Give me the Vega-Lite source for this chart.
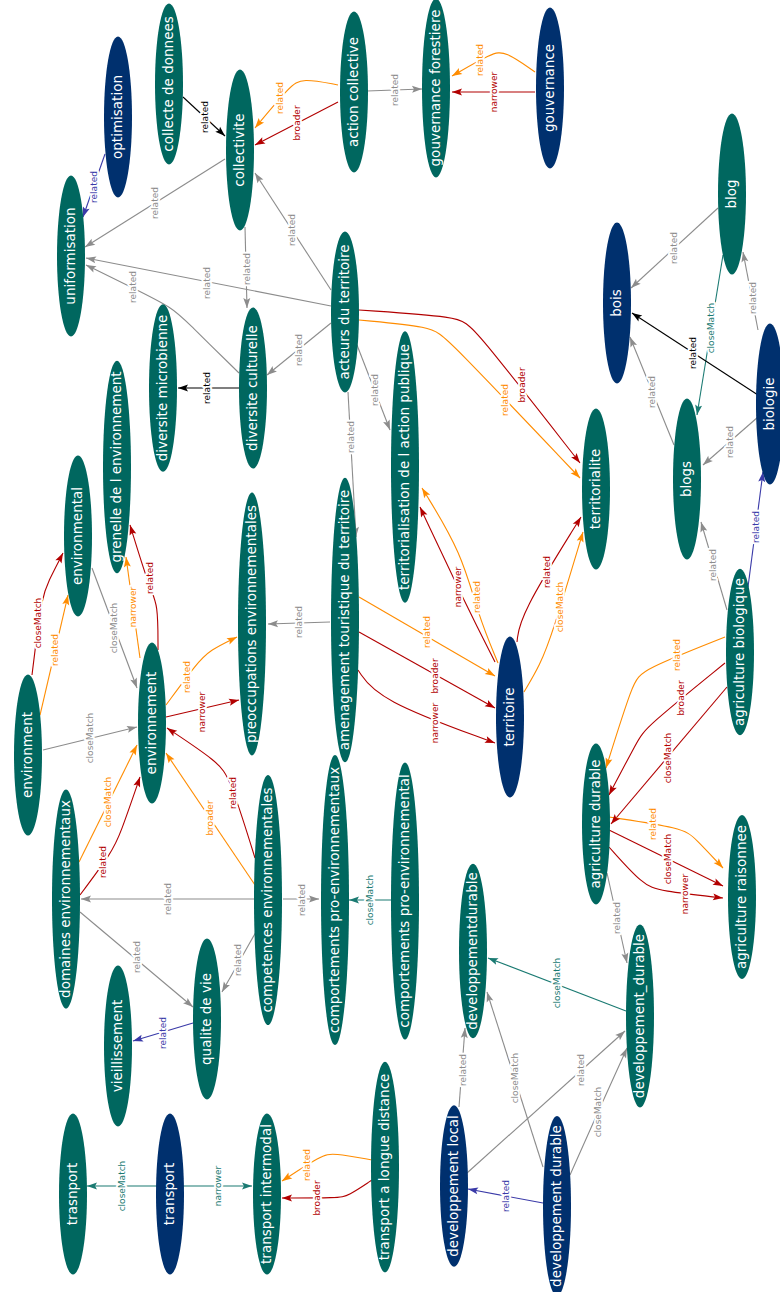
{
"$schema": "https://vega.github.io/schema/vega-lite/v6.json",
"width": 780, "height": 1292, "padding": 0,
"autosize": {"type": "none"},
"background": "white",
"config": {"view": {"stroke": null}},
"datasets": {
"nodes": [
{"name":"collecte de donnees","grp":"n1","x":169,"y":84},
{"name":"optimisation","grp":"n2","x":118,"y":117},
{"name":"collectivite","grp":"n1","x":240,"y":150},
{"name":"action collective","grp":"n1","x":354,"y":92},
{"name":"gouvernance forestiere","grp":"n1","x":436,"y":88},
{"name":"gouvernance","grp":"n2","x":550,"y":88},
{"name":"uniformisation","grp":"n1","x":71,"y":256},
{"name":"blog","grp":"n1","x":732,"y":194},
{"name":"bois","grp":"n2","x":617,"y":303},
{"name":"biologie","grp":"n2","x":770,"y":404},
{"name":"acteurs du territoire","grp":"n1","x":345,"y":312},
{"name":"diversite culturelle","grp":"n1","x":253,"y":388},
{"name":"diversite microbienne","grp":"n1","x":163,"y":388},
{"name":"territorialisation de l action publique","grp":"n1","x":405,"y":467},
{"name":"grenelle de l environnement","grp":"n1","x":117,"y":467},
{"name":"blogs","grp":"n1","x":687,"y":479},
{"name":"territorialite","grp":"n1","x":596,"y":489},
{"name":"environmental","grp":"n1","x":78,"y":536},
{"name":"preoccupations environnementales","grp":"n1","x":252,"y":624},
{"name":"amenagement touristique du territoire","grp":"n1","x":345,"y":620},
{"name":"agriculture biologique","grp":"n1","x":740,"y":652},
{"name":"environnement","grp":"n1","x":152,"y":723},
{"name":"territoire","grp":"n2","x":510,"y":717},
{"name":"environment","grp":"n1","x":28,"y":755},
{"name":"agriculture durable","grp":"n1","x":596,"y":824},
{"name":"agriculture raisonnee","grp":"n1","x":742,"y":897},
{"name":"domaines environnementaux","grp":"n1","x":66,"y":899},
{"name":"competences environnementales","grp":"n1","x":268,"y":900},
{"name":"comportements pro-environnementaux","grp":"n1","x":335,"y":900},
{"name":"comportements pro-environnemental","grp":"n1","x":405,"y":901},
{"name":"developpementdurable","grp":"n1","x":473,"y":951},
{"name":"developpement_durable","grp":"n1","x":640,"y":1016},
{"name":"qualite de vie","grp":"n1","x":207,"y":1019},
{"name":"vieillissement","grp":"n1","x":118,"y":1046},
{"name":"developpement local","grp":"n2","x":454,"y":1186},
{"name":"developpement durable","grp":"n2","x":557,"y":1206},
{"name":"transport a longue distance","grp":"n1","x":385,"y":1167},
{"name":"transport intermodal","grp":"n1","x":267,"y":1194},
{"name":"transport","grp":"n2","x":170,"y":1194},
{"name":"trasnport","grp":"n1","x":73,"y":1194}
],
"edges": [
{"e":1,"i":0,"x":183,"y":97,"grp":"f"},{"e":1,"i":1,"x":225,"y":136,"grp":"f"},
{"e":2,"i":0,"x":105,"y":154,"grp":"e"},{"e":2,"i":1,"x":83,"y":217,"grp":"e"},
{"e":3,"i":0,"x":225,"y":159,"grp":"a"},{"e":3,"i":1,"x":85,"y":247,"grp":"a"},
{"e":4,"i":0,"x":338,"y":85,"grp":"b"},{"e":4,"i":1,"x":302,"y":78,"grp":"b"},{"e":4,"i":2,"x":290,"y":86,"grp":"b"},{"e":4,"i":3,"x":255,"y":128,"grp":"b"},
{"e":5,"i":0,"x":338,"y":102,"grp":"c"},{"e":5,"i":1,"x":255,"y":145,"grp":"c"},
{"e":6,"i":0,"x":367,"y":91,"grp":"a"},{"e":6,"i":1,"x":422,"y":89,"grp":"a"},
{"e":7,"i":0,"x":535,"y":72,"grp":"b"},{"e":7,"i":1,"x":505,"y":51,"grp":"b"},{"e":7,"i":2,"x":492,"y":53,"grp":"b"},{"e":7,"i":3,"x":452,"y":76,"grp":"b"},
{"e":8,"i":0,"x":535,"y":92,"grp":"c"},{"e":8,"i":1,"x":452,"y":92,"grp":"c"},
{"e":9,"i":0,"x":718,"y":208,"grp":"a"},{"e":9,"i":1,"x":631,"y":288,"grp":"a"},
{"e":10,"i":0,"x":723,"y":255,"grp":"d"},{"e":10,"i":1,"x":697,"y":415,"grp":"d"},
{"e":11,"i":0,"x":758,"y":330,"grp":"a"},{"e":11,"i":1,"x":743,"y":252,"grp":"a"},
{"e":12,"i":0,"x":758,"y":395,"grp":"f"},{"e":12,"i":1,"x":632,"y":313,"grp":"f"},
{"e":13,"i":0,"x":758,"y":417,"grp":"a"},{"e":13,"i":1,"x":703,"y":465,"grp":"a"},
{"e":14,"i":0,"x":674,"y":445,"grp":"a"},{"e":14,"i":1,"x":630,"y":337,"grp":"a"},
{"e":15,"i":0,"x":727,"y":610,"grp":"a"},{"e":15,"i":1,"x":701,"y":522,"grp":"a"},
{"e":16,"i":0,"x":748,"y":587,"grp":"e"},{"e":16,"i":1,"x":763,"y":472,"grp":"e"},
{"e":17,"i":0,"x":331,"y":290,"grp":"a"},{"e":17,"i":1,"x":255,"y":173,"grp":"a"},
{"e":18,"i":0,"x":331,"y":306,"grp":"a"},{"e":18,"i":1,"x":86,"y":258,"grp":"a"},
{"e":19,"i":0,"x":331,"y":323,"grp":"a"},{"e":19,"i":1,"x":267,"y":375,"grp":"a"},
{"e":20,"i":0,"x":357,"y":345,"grp":"a"},{"e":20,"i":1,"x":390,"y":430,"grp":"a"},
{"e":21,"i":0,"x":348,"y":392,"grp":"a"},{"e":21,"i":1,"x":356,"y":537,"grp":"a"},
{"e":22,"i":0,"x":359,"y":310,"grp":"c"},{"e":22,"i":1,"x":460,"y":317,"grp":"c"},{"e":22,"i":2,"x":472,"y":325,"grp":"c"},{"e":22,"i":3,"x":580,"y":463,"grp":"c"},
{"e":23,"i":0,"x":359,"y":320,"grp":"b"},{"e":23,"i":1,"x":432,"y":327,"grp":"b"},{"e":23,"i":2,"x":445,"y":336,"grp":"b"},{"e":23,"i":3,"x":580,"y":478,"grp":"b"},
{"e":24,"i":0,"x":245,"y":227,"grp":"a"},{"e":24,"i":1,"x":247,"y":308,"grp":"a"},
{"e":25,"i":0,"x":239,"y":373,"grp":"a"},{"e":25,"i":1,"x":187,"y":322,"grp":"a"},{"e":25,"i":2,"x":173,"y":308,"grp":"a"},{"e":25,"i":3,"x":133,"y":288,"grp":"a"},{"e":25,"i":4,"x":86,"y":265,"grp":"a"},
{"e":26,"i":0,"x":239,"y":388,"grp":"f"},{"e":26,"i":1,"x":178,"y":388,"grp":"f"},
{"e":27,"i":0,"x":495,"y":662,"grp":"c"},{"e":27,"i":1,"x":467,"y":607,"grp":"c"},{"e":27,"i":2,"x":420,"y":507,"grp":"c"},
{"e":28,"i":0,"x":498,"y":663,"grp":"b"},{"e":28,"i":1,"x":478,"y":615,"grp":"b"},{"e":28,"i":2,"x":462,"y":553,"grp":"b"},{"e":28,"i":3,"x":422,"y":488,"grp":"b"},
{"e":29,"i":0,"x":517,"y":642,"grp":"c"},{"e":29,"i":1,"x":520,"y":615,"grp":"c"},{"e":29,"i":2,"x":581,"y":517,"grp":"c"},
{"e":30,"i":0,"x":524,"y":692,"grp":"b"},{"e":30,"i":1,"x":540,"y":665,"grp":"b"},{"e":30,"i":2,"x":552,"y":635,"grp":"b"},{"e":30,"i":3,"x":583,"y":532,"grp":"b"},
{"e":31,"i":0,"x":330,"y":622,"grp":"a"},{"e":31,"i":1,"x":268,"y":624,"grp":"a"},
{"e":32,"i":0,"x":359,"y":597,"grp":"b"},{"e":32,"i":1,"x":495,"y":676,"grp":"b"},
{"e":33,"i":0,"x":359,"y":632,"grp":"c"},{"e":33,"i":1,"x":495,"y":708,"grp":"c"},
{"e":34,"i":0,"x":358,"y":670,"grp":"c"},{"e":34,"i":1,"x":378,"y":700,"grp":"c"},{"e":34,"i":2,"x":495,"y":743,"grp":"c"},
{"e":35,"i":0,"x":166,"y":705,"grp":"b"},{"e":35,"i":1,"x":197,"y":663,"grp":"b"},{"e":35,"i":2,"x":210,"y":650,"grp":"b"},{"e":35,"i":3,"x":237,"y":637,"grp":"b"},
{"e":36,"i":0,"x":166,"y":717,"grp":"c"},{"e":36,"i":1,"x":239,"y":700,"grp":"c"},
{"e":37,"i":0,"x":140,"y":658,"grp":"b"},{"e":37,"i":1,"x":126,"y":557,"grp":"b"},
{"e":38,"i":0,"x":158,"y":650,"grp":"c"},{"e":38,"i":1,"x":158,"y":603,"grp":"c"},{"e":38,"i":2,"x":150,"y":590,"grp":"c"},{"e":38,"i":3,"x":130,"y":525,"grp":"c"},
{"e":39,"i":0,"x":92,"y":568,"grp":"a"},{"e":39,"i":1,"x":137,"y":688,"grp":"a"},
{"e":40,"i":0,"x":32,"y":675,"grp":"c"},{"e":40,"i":1,"x":35,"y":650,"grp":"c"},{"e":40,"i":2,"x":42,"y":597,"grp":"c"},{"e":40,"i":3,"x":48,"y":582,"grp":"c"},{"e":40,"i":4,"x":63,"y":553,"grp":"c"},
{"e":41,"i":0,"x":40,"y":715,"grp":"b"},{"e":41,"i":1,"x":68,"y":595,"grp":"b"},
{"e":42,"i":0,"x":43,"y":750,"grp":"a"},{"e":42,"i":1,"x":137,"y":727,"grp":"a"},
{"e":43,"i":0,"x":79,"y":862,"grp":"b"},{"e":43,"i":1,"x":137,"y":745,"grp":"b"},
{"e":44,"i":0,"x":80,"y":895,"grp":"c"},{"e":44,"i":1,"x":112,"y":852,"grp":"c"},{"e":44,"i":2,"x":120,"y":835,"grp":"c"},{"e":44,"i":3,"x":140,"y":777,"grp":"c"},
{"e":45,"i":0,"x":255,"y":885,"grp":"b"},{"e":45,"i":1,"x":166,"y":753,"grp":"b"},
{"e":46,"i":0,"x":255,"y":858,"grp":"c"},{"e":46,"i":1,"x":230,"y":778,"grp":"c"},{"e":46,"i":2,"x":218,"y":762,"grp":"c"},{"e":46,"i":3,"x":167,"y":728,"grp":"c"},
{"e":47,"i":0,"x":255,"y":899,"grp":"a"},{"e":47,"i":1,"x":81,"y":899,"grp":"a"},
{"e":48,"i":0,"x":283,"y":899,"grp":"a"},{"e":48,"i":1,"x":319,"y":899,"grp":"a"},
{"e":49,"i":0,"x":80,"y":912,"grp":"a"},{"e":49,"i":1,"x":193,"y":1007,"grp":"a"},
{"e":50,"i":0,"x":257,"y":930,"grp":"a"},{"e":50,"i":1,"x":222,"y":992,"grp":"a"},
{"e":51,"i":0,"x":193,"y":1023,"grp":"e"},{"e":51,"i":1,"x":133,"y":1041,"grp":"e"},
{"e":52,"i":0,"x":391,"y":900,"grp":"d"},{"e":52,"i":1,"x":349,"y":900,"grp":"d"},
{"e":53,"i":0,"x":725,"y":637,"grp":"b"},{"e":53,"i":1,"x":642,"y":670,"grp":"b"},{"e":53,"i":2,"x":633,"y":682,"grp":"b"},{"e":53,"i":3,"x":606,"y":768,"grp":"b"},
{"e":54,"i":0,"x":725,"y":663,"grp":"c"},{"e":54,"i":1,"x":645,"y":728,"grp":"c"},{"e":54,"i":2,"x":638,"y":740,"grp":"c"},{"e":54,"i":3,"x":609,"y":795,"grp":"c"},
{"e":55,"i":0,"x":727,"y":687,"grp":"c"},{"e":55,"i":1,"x":611,"y":824,"grp":"c"},
{"e":56,"i":0,"x":609,"y":817,"grp":"b"},{"e":56,"i":1,"x":683,"y":828,"grp":"b"},{"e":56,"i":2,"x":695,"y":838,"grp":"b"},{"e":56,"i":3,"x":723,"y":868,"grp":"b"},
{"e":57,"i":0,"x":609,"y":830,"grp":"c"},{"e":57,"i":1,"x":723,"y":886,"grp":"c"},
{"e":58,"i":0,"x":609,"y":847,"grp":"c"},{"e":58,"i":1,"x":643,"y":885,"grp":"c"},{"e":58,"i":2,"x":660,"y":891,"grp":"c"},{"e":58,"i":3,"x":723,"y":898,"grp":"c"},
{"e":59,"i":0,"x":607,"y":873,"grp":"a"},{"e":59,"i":1,"x":627,"y":963,"grp":"a"},
{"e":60,"i":0,"x":626,"y":1011,"grp":"d"},{"e":60,"i":1,"x":488,"y":958,"grp":"d"},
{"e":61,"i":0,"x":459,"y":1107,"grp":"a"},{"e":61,"i":1,"x":465,"y":1028,"grp":"a"},
{"e":62,"i":0,"x":467,"y":1173,"grp":"a"},{"e":62,"i":1,"x":625,"y":1031,"grp":"a"},
{"e":63,"i":0,"x":543,"y":1167,"grp":"a"},{"e":63,"i":1,"x":487,"y":992,"grp":"a"},
{"e":64,"i":0,"x":570,"y":1175,"grp":"a"},{"e":64,"i":1,"x":590,"y":1130,"grp":"a"},{"e":64,"i":2,"x":627,"y":1048,"grp":"a"},
{"e":65,"i":0,"x":543,"y":1203,"grp":"e"},{"e":65,"i":1,"x":468,"y":1189,"grp":"e"},
{"e":66,"i":0,"x":372,"y":1160,"grp":"b"},{"e":66,"i":1,"x":333,"y":1153,"grp":"b"},{"e":66,"i":2,"x":322,"y":1155,"grp":"b"},{"e":66,"i":3,"x":282,"y":1181,"grp":"b"},
{"e":67,"i":0,"x":372,"y":1180,"grp":"c"},{"e":67,"i":1,"x":348,"y":1196,"grp":"c"},{"e":67,"i":2,"x":338,"y":1198,"grp":"c"},{"e":67,"i":3,"x":282,"y":1198,"grp":"c"},
{"e":68,"i":0,"x":183,"y":1186,"grp":"d"},{"e":68,"i":1,"x":252,"y":1186,"grp":"d"},
{"e":69,"i":0,"x":157,"y":1186,"grp":"d"},{"e":69,"i":1,"x":87,"y":1186,"grp":"d"}
],
"labels": [
{"t":"related","grp":"f","x":205,"y":117},
{"t":"related","grp":"e","x":94,"y":187},
{"t":"related","grp":"a","x":155,"y":203},
{"t":"related","grp":"b","x":280,"y":98},
{"t":"broader","grp":"c","x":297,"y":123},
{"t":"related","grp":"a","x":395,"y":90},
{"t":"related","grp":"b","x":480,"y":60},
{"t":"narrower","grp":"c","x":494,"y":92},
{"t":"related","grp":"a","x":674,"y":248},
{"t":"closeMatch","grp":"d","x":711,"y":328},
{"t":"related","grp":"a","x":753,"y":298},
{"t":"related","grp":"f","x":693,"y":353},
{"t":"related","grp":"a","x":730,"y":442},
{"t":"related","grp":"a","x":652,"y":392},
{"t":"related","grp":"a","x":713,"y":565},
{"t":"related","grp":"e","x":756,"y":527},
{"t":"related","grp":"a","x":292,"y":230},
{"t":"related","grp":"a","x":207,"y":283},
{"t":"related","grp":"a","x":299,"y":350},
{"t":"related","grp":"a","x":375,"y":390},
{"t":"related","grp":"a","x":351,"y":437},
{"t":"broader","grp":"c","x":522,"y":385},
{"t":"related","grp":"b","x":505,"y":400},
{"t":"related","grp":"a","x":247,"y":269},
{"t":"related","grp":"a","x":133,"y":287},
{"t":"related","grp":"f","x":207,"y":388},
{"t":"narrower","grp":"c","x":458,"y":587},
{"t":"related","grp":"b","x":477,"y":597},
{"t":"related","grp":"c","x":547,"y":572},
{"t":"closeMatch","grp":"b","x":560,"y":607},
{"t":"related","grp":"a","x":299,"y":622},
{"t":"related","grp":"b","x":427,"y":632},
{"t":"broader","grp":"c","x":435,"y":676},
{"t":"narrower","grp":"c","x":435,"y":723},
{"t":"related","grp":"b","x":187,"y":677},
{"t":"narrower","grp":"c","x":202,"y":712},
{"t":"narrower","grp":"b","x":133,"y":607},
{"t":"related","grp":"c","x":150,"y":578},
{"t":"closeMatch","grp":"a","x":114,"y":628},
{"t":"closeMatch","grp":"c","x":38,"y":623},
{"t":"related","grp":"b","x":55,"y":650},
{"t":"closeMatch","grp":"a","x":90,"y":738},
{"t":"closeMatch","grp":"b","x":108,"y":802},
{"t":"related","grp":"c","x":103,"y":862},
{"t":"broader","grp":"b","x":210,"y":818},
{"t":"related","grp":"c","x":233,"y":793},
{"t":"related","grp":"a","x":168,"y":899},
{"t":"related","grp":"a","x":302,"y":900},
{"t":"related","grp":"a","x":137,"y":957},
{"t":"related","grp":"a","x":238,"y":960},
{"t":"related","grp":"e","x":163,"y":1033},
{"t":"closeMatch","grp":"d","x":370,"y":900},
{"t":"related","grp":"b","x":677,"y":655},
{"t":"broader","grp":"c","x":681,"y":698},
{"t":"closeMatch","grp":"c","x":668,"y":758},
{"t":"related","grp":"b","x":653,"y":824},
{"t":"closeMatch","grp":"c","x":668,"y":859},
{"t":"narrower","grp":"c","x":685,"y":894},
{"t":"related","grp":"a","x":617,"y":918},
{"t":"closeMatch","grp":"d","x":557,"y":983},
{"t":"related","grp":"a","x":463,"y":1070},
{"t":"related","grp":"a","x":581,"y":1070},
{"t":"closeMatch","grp":"a","x":515,"y":1078},
{"t":"closeMatch","grp":"a","x":598,"y":1112},
{"t":"related","grp":"e","x":506,"y":1196},
{"t":"related","grp":"b","x":307,"y":1165},
{"t":"broader","grp":"c","x":317,"y":1198},
{"t":"narrower","grp":"d","x":218,"y":1186},
{"t":"closeMatch","grp":"d","x":122,"y":1186}
]
},
"encoding": {
"x": {"field": "x", "type": "quantitative", "scale": {"domain": [0, 780], "nice": false, "zero": false}, "axis": null},
"y": {"field": "y", "type": "quantitative", "scale": {"domain": [0, 1292], "nice": false, "zero": false, "reverse": true}, "axis": null},
"color": {"field": "grp", "type": "nominal", "legend": null,
  "scale": {"domain": ["a","b","c","d","e","f","n1","n2"], "range": ["#8c8c8c","#ff8c00","#b20000","#1a7a72","#3a3aa8","#000000","#00675f","#00306e"]}}
},
"layer": [
{
"data": {"name": "edges"},
"mark": {"type": "line", "strokeWidth": 1.1, "interpolate": "basis"},
"encoding": {"detail": {"field": "e", "type": "nominal"}, "order": {"field": "i", "type": "quantitative"}}
},
{
"data": {"name": "edges"},
"transform": [
 {"window": [{"op": "lag", "field": "x", "as": "px"}, {"op": "lag", "field": "y", "as": "py"}], "groupby": ["e"], "sort": [{"field": "i", "order": "ascending"}]},
 {"joinaggregate": [{"op": "max", "field": "i", "as": "mi"}], "groupby": ["e"]},
 {"filter": "datum.i == datum.mi"}
],
"mark": {"type": "point", "filled": true, "opacity": 1, "strokeWidth": 0, "size": 100,
  "shape": "M0,0L-2,-0.7L-1.6,0L-2,0.7Z",
  "angle": {"expr": "atan2(datum.y - datum.py, datum.x - datum.px) * 180 / PI"}}
},
{
"data": {"name": "nodes"},
"mark": {"type": "point", "filled": true, "opacity": 1, "strokeWidth": 0,
  "size": {"expr": "pow(max(161, 14*(0.61*length(datum.name) - 0.33*length(replace(datum.name, regexp('[^ilj]','g'), '')) - 0.22*length(replace(datum.name, regexp('[^tfr -]','g'), '')) + 0.36*length(replace(datum.name, regexp('[^m]','g'), ''))) + 14), 2)"},
  "shape": {"expr": "'M0,-1A' + (28/max(161, 14*(0.61*length(datum.name) - 0.33*length(replace(datum.name, regexp('[^ilj]','g'), '')) - 0.22*length(replace(datum.name, regexp('[^tfr -]','g'), '')) + 0.36*length(replace(datum.name, regexp('[^m]','g'), ''))) + 14)) + ',1,0,1,1,0,1A' + (28/max(161, 14*(0.61*length(datum.name) - 0.33*length(replace(datum.name, regexp('[^ilj]','g'), '')) - 0.22*length(replace(datum.name, regexp('[^tfr -]','g'), '')) + 0.36*length(replace(datum.name, regexp('[^m]','g'), ''))) + 14)) + ',1,0,1,1,0,-1Z'"}}
},
{
"data": {"name": "nodes"},
"mark": {"type": "text", "angle": 270, "font": "DejaVu Sans", "fontSize": 13.5, "align": "center", "baseline": "middle"},
"encoding": {"text": {"field": "name"}, "color": {"value": "white"}}
},
{
"data": {"name": "labels"},
"mark": {"type": "text", "angle": 270, "font": "DejaVu Sans", "fontSize": 9, "align": "center", "baseline": "middle", "stroke": "white", "strokeWidth": 4, "strokeJoin": "round"},
"encoding": {"text": {"field": "t"}, "color": {"value": "white"}}
},
{
"data": {"name": "labels"},
"mark": {"type": "text", "angle": 270, "font": "DejaVu Sans", "fontSize": 9, "align": "center", "baseline": "middle"},
"encoding": {"text": {"field": "t"}}
}
]
}
